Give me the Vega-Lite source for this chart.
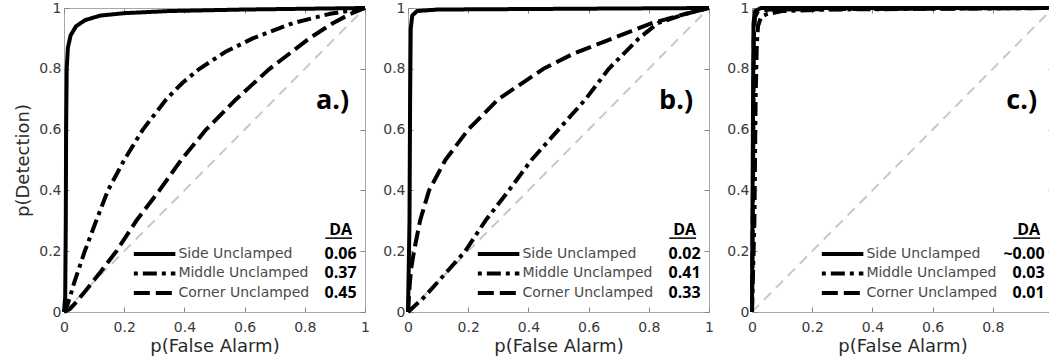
{
  "$schema": "https://vega.github.io/schema/vega-lite/v6.json",
  "padding": {"left": 14, "top": 0, "right": 0, "bottom": 0},
  "background": "white",
  "config": {
    "view": {"stroke": "#a8a8a8", "strokeWidth": 1},
    "axis": {"labelFont": "DejaVu Sans", "labelFontSize": 14, "labelColor": "#3a3a3a", "titleFont": "DejaVu Sans", "titleFontSize": 18, "titleFontWeight": "normal", "titleColor": "#2a2a2a", "tickColor": "#888888", "grid": false, "domain": false, "labelFlush": false}
  },
  "datasets": {
    "curves": [
      {"panel": "a", "series": "Chance", "fa": 0, "det": 0}, {"panel": "a", "series": "Chance", "fa": 1, "det": 1},
      {"panel": "b", "series": "Chance", "fa": 0, "det": 0}, {"panel": "b", "series": "Chance", "fa": 1, "det": 1},
      {"panel": "c", "series": "Chance", "fa": 0, "det": 0}, {"panel": "c", "series": "Chance", "fa": 1, "det": 1},
      {"panel": "a", "series": "Side Unclamped", "fa": 0, "det": 0},
      {"panel": "a", "series": "Side Unclamped", "fa": 0.004, "det": 0.05},
      {"panel": "a", "series": "Side Unclamped", "fa": 0.006, "det": 0.3},
      {"panel": "a", "series": "Side Unclamped", "fa": 0.007, "det": 0.6},
      {"panel": "a", "series": "Side Unclamped", "fa": 0.009, "det": 0.8},
      {"panel": "a", "series": "Side Unclamped", "fa": 0.013, "det": 0.87},
      {"panel": "a", "series": "Side Unclamped", "fa": 0.022, "det": 0.91},
      {"panel": "a", "series": "Side Unclamped", "fa": 0.04, "det": 0.94},
      {"panel": "a", "series": "Side Unclamped", "fa": 0.07, "det": 0.96},
      {"panel": "a", "series": "Side Unclamped", "fa": 0.12, "det": 0.975},
      {"panel": "a", "series": "Side Unclamped", "fa": 0.2, "det": 0.983},
      {"panel": "a", "series": "Side Unclamped", "fa": 0.35, "det": 0.99},
      {"panel": "a", "series": "Side Unclamped", "fa": 0.6, "det": 0.995},
      {"panel": "a", "series": "Side Unclamped", "fa": 1, "det": 1},
      {"panel": "a", "series": "Middle Unclamped", "fa": 0, "det": 0},
      {"panel": "a", "series": "Middle Unclamped", "fa": 0.01, "det": 0.02},
      {"panel": "a", "series": "Middle Unclamped", "fa": 0.02, "det": 0.05},
      {"panel": "a", "series": "Middle Unclamped", "fa": 0.035, "det": 0.1},
      {"panel": "a", "series": "Middle Unclamped", "fa": 0.069, "det": 0.2},
      {"panel": "a", "series": "Middle Unclamped", "fa": 0.107, "det": 0.3},
      {"panel": "a", "series": "Middle Unclamped", "fa": 0.146, "det": 0.4},
      {"panel": "a", "series": "Middle Unclamped", "fa": 0.2, "det": 0.5},
      {"panel": "a", "series": "Middle Unclamped", "fa": 0.262, "det": 0.6},
      {"panel": "a", "series": "Middle Unclamped", "fa": 0.34, "det": 0.7},
      {"panel": "a", "series": "Middle Unclamped", "fa": 0.395, "det": 0.755},
      {"panel": "a", "series": "Middle Unclamped", "fa": 0.45, "det": 0.8},
      {"panel": "a", "series": "Middle Unclamped", "fa": 0.535, "det": 0.855},
      {"panel": "a", "series": "Middle Unclamped", "fa": 0.627, "det": 0.9},
      {"panel": "a", "series": "Middle Unclamped", "fa": 0.76, "det": 0.95},
      {"panel": "a", "series": "Middle Unclamped", "fa": 0.88, "det": 0.98},
      {"panel": "a", "series": "Middle Unclamped", "fa": 1, "det": 1},
      {"panel": "a", "series": "Corner Unclamped", "fa": 0, "det": 0},
      {"panel": "a", "series": "Corner Unclamped", "fa": 0.02, "det": 0.01},
      {"panel": "a", "series": "Corner Unclamped", "fa": 0.041, "det": 0.033},
      {"panel": "a", "series": "Corner Unclamped", "fa": 0.08, "det": 0.08},
      {"panel": "a", "series": "Corner Unclamped", "fa": 0.12, "det": 0.13},
      {"panel": "a", "series": "Corner Unclamped", "fa": 0.174, "det": 0.2},
      {"panel": "a", "series": "Corner Unclamped", "fa": 0.24, "det": 0.3},
      {"panel": "a", "series": "Corner Unclamped", "fa": 0.317, "det": 0.4},
      {"panel": "a", "series": "Corner Unclamped", "fa": 0.389, "det": 0.5},
      {"panel": "a", "series": "Corner Unclamped", "fa": 0.472, "det": 0.6},
      {"panel": "a", "series": "Corner Unclamped", "fa": 0.572, "det": 0.7},
      {"panel": "a", "series": "Corner Unclamped", "fa": 0.683, "det": 0.8},
      {"panel": "a", "series": "Corner Unclamped", "fa": 0.815, "det": 0.9},
      {"panel": "a", "series": "Corner Unclamped", "fa": 0.893, "det": 0.95},
      {"panel": "a", "series": "Corner Unclamped", "fa": 0.95, "det": 0.98},
      {"panel": "a", "series": "Corner Unclamped", "fa": 1, "det": 1},
      {"panel": "b", "series": "Side Unclamped", "fa": 0, "det": 0},
      {"panel": "b", "series": "Side Unclamped", "fa": 0.005, "det": 0.3},
      {"panel": "b", "series": "Side Unclamped", "fa": 0.007, "det": 0.7},
      {"panel": "b", "series": "Side Unclamped", "fa": 0.009, "det": 0.93},
      {"panel": "b", "series": "Side Unclamped", "fa": 0.014, "det": 0.975},
      {"panel": "b", "series": "Side Unclamped", "fa": 0.03, "det": 0.99},
      {"panel": "b", "series": "Side Unclamped", "fa": 0.1, "det": 0.995},
      {"panel": "b", "series": "Side Unclamped", "fa": 1, "det": 1},
      {"panel": "b", "series": "Middle Unclamped", "fa": 0, "det": 0},
      {"panel": "b", "series": "Middle Unclamped", "fa": 0.05, "det": 0.045},
      {"panel": "b", "series": "Middle Unclamped", "fa": 0.1, "det": 0.1},
      {"panel": "b", "series": "Middle Unclamped", "fa": 0.19, "det": 0.2},
      {"panel": "b", "series": "Middle Unclamped", "fa": 0.257, "det": 0.3},
      {"panel": "b", "series": "Middle Unclamped", "fa": 0.335, "det": 0.4},
      {"panel": "b", "series": "Middle Unclamped", "fa": 0.41, "det": 0.5},
      {"panel": "b", "series": "Middle Unclamped", "fa": 0.5, "det": 0.6},
      {"panel": "b", "series": "Middle Unclamped", "fa": 0.59, "det": 0.7},
      {"panel": "b", "series": "Middle Unclamped", "fa": 0.667, "det": 0.8},
      {"panel": "b", "series": "Middle Unclamped", "fa": 0.767, "det": 0.9},
      {"panel": "b", "series": "Middle Unclamped", "fa": 0.83, "det": 0.95},
      {"panel": "b", "series": "Middle Unclamped", "fa": 0.92, "det": 0.98},
      {"panel": "b", "series": "Middle Unclamped", "fa": 1, "det": 1},
      {"panel": "b", "series": "Corner Unclamped", "fa": 0, "det": 0},
      {"panel": "b", "series": "Corner Unclamped", "fa": 0.005, "det": 0.08},
      {"panel": "b", "series": "Corner Unclamped", "fa": 0.01, "det": 0.14},
      {"panel": "b", "series": "Corner Unclamped", "fa": 0.02, "det": 0.2},
      {"panel": "b", "series": "Corner Unclamped", "fa": 0.04, "det": 0.3},
      {"panel": "b", "series": "Corner Unclamped", "fa": 0.07, "det": 0.4},
      {"panel": "b", "series": "Corner Unclamped", "fa": 0.124, "det": 0.5},
      {"panel": "b", "series": "Corner Unclamped", "fa": 0.2, "det": 0.6},
      {"panel": "b", "series": "Corner Unclamped", "fa": 0.3, "det": 0.7},
      {"panel": "b", "series": "Corner Unclamped", "fa": 0.45, "det": 0.8},
      {"panel": "b", "series": "Corner Unclamped", "fa": 0.55, "det": 0.85},
      {"panel": "b", "series": "Corner Unclamped", "fa": 0.68, "det": 0.9},
      {"panel": "b", "series": "Corner Unclamped", "fa": 0.81, "det": 0.95},
      {"panel": "b", "series": "Corner Unclamped", "fa": 0.9, "det": 0.975},
      {"panel": "b", "series": "Corner Unclamped", "fa": 1, "det": 1},
      {"panel": "c", "series": "Side Unclamped", "fa": 0, "det": 0},
      {"panel": "c", "series": "Side Unclamped", "fa": 0.003, "det": 0.6},
      {"panel": "c", "series": "Side Unclamped", "fa": 0.005, "det": 0.95},
      {"panel": "c", "series": "Side Unclamped", "fa": 0.01, "det": 0.99},
      {"panel": "c", "series": "Side Unclamped", "fa": 0.03, "det": 1},
      {"panel": "c", "series": "Side Unclamped", "fa": 1, "det": 1},
      {"panel": "c", "series": "Middle Unclamped", "fa": 0, "det": 0},
      {"panel": "c", "series": "Middle Unclamped", "fa": 0.008, "det": 0.3},
      {"panel": "c", "series": "Middle Unclamped", "fa": 0.012, "det": 0.7},
      {"panel": "c", "series": "Middle Unclamped", "fa": 0.016, "det": 0.88},
      {"panel": "c", "series": "Middle Unclamped", "fa": 0.02, "det": 0.94},
      {"panel": "c", "series": "Middle Unclamped", "fa": 0.03, "det": 0.97},
      {"panel": "c", "series": "Middle Unclamped", "fa": 0.05, "det": 0.98},
      {"panel": "c", "series": "Middle Unclamped", "fa": 0.1, "det": 0.99},
      {"panel": "c", "series": "Middle Unclamped", "fa": 0.25, "det": 0.995},
      {"panel": "c", "series": "Middle Unclamped", "fa": 1, "det": 1},
      {"panel": "c", "series": "Corner Unclamped", "fa": 0, "det": 0},
      {"panel": "c", "series": "Corner Unclamped", "fa": 0.004, "det": 0.5},
      {"panel": "c", "series": "Corner Unclamped", "fa": 0.006, "det": 0.9},
      {"panel": "c", "series": "Corner Unclamped", "fa": 0.01, "det": 0.97},
      {"panel": "c", "series": "Corner Unclamped", "fa": 0.02, "det": 0.99},
      {"panel": "c", "series": "Corner Unclamped", "fa": 0.06, "det": 0.995},
      {"panel": "c", "series": "Corner Unclamped", "fa": 1, "det": 1}
    ],
    "panels": [
      {"panel": "a", "tag": "a.)", "da": "0.06\n0.37\n0.45"},
      {"panel": "b", "tag": "b.)", "da": "0.02\n0.41\n0.33"},
      {"panel": "c", "tag": "c.)", "da": "~0.00\n0.03\n0.01"}
    ]
  },
  "bounds": "flush",
  "spacing": 43,
  "hconcat": [
    {
      "width": 301, "height": 304,
      "resolve": {"axis": {"x": "independent", "y": "independent"}},
      "layer": [
        {"data": {"name": "curves"}, "transform": [{"filter": "datum.panel === 'a' && datum.series === 'Chance'"}],
         "mark": {"type": "line", "color": "#c8c8c8", "strokeWidth": 2, "strokeDash": [10, 7]},
         "encoding": {
           "x": {"field": "fa", "type": "quantitative", "scale": {"domain": [0, 1], "nice": false}, "axis": {"orient": "top", "labels": false, "title": null, "tickSize": -5, "values": [0, 0.2, 0.4, 0.6, 0.8, 1]}},
           "y": {"field": "det", "type": "quantitative", "scale": {"domain": [0, 1], "nice": false}, "axis": {"orient": "right", "labels": false, "title": null, "tickSize": -5, "values": [0, 0.2, 0.4, 0.6, 0.8, 1]}}
         }},
        {"data": {"name": "curves"}, "transform": [{"filter": "datum.panel === 'a' && datum.series !== 'Chance'"}],
         "mark": {"type": "line", "color": "black", "strokeWidth": 4, "strokeCap": "butt", "strokeJoin": "round"},
         "encoding": {
           "x": {"field": "fa", "type": "quantitative", "title": "p(False Alarm)", "axis": {"tickSize": -5, "labelPadding": 13, "titlePadding": 3, "format": "~g", "values": [0, 0.2, 0.4, 0.6, 0.8, 1]}},
           "y": {"field": "det", "type": "quantitative", "title": "p(Detection)", "axis": {"tickSize": -5, "labelPadding": 8, "titlePadding": 6, "format": "~g", "values": [0, 0.2, 0.4, 0.6, 0.8, 1]}},
           "strokeDash": {"field": "series", "type": "nominal", "legend": null, "scale": {"domain": ["Side Unclamped", "Middle Unclamped", "Corner Unclamped"], "range": [[1, 0], [14, 5, 4, 5], [16, 6]]}}
         }},
        {"data": {"name": "panels"}, "transform": [{"filter": "datum.panel === 'a'"}],
         "mark": {"type": "rule", "color": "black", "strokeWidth": 4},
         "encoding": {"x": {"datum": 0.232, "axis": null}, "x2": {"datum": 0.37}, "y": {"datum": 0.191, "axis": null}}},
        {"data": {"name": "panels"}, "transform": [{"filter": "datum.panel === 'a'"}],
         "mark": {"type": "rule", "color": "black", "strokeWidth": 4, "strokeDash": [4, 5, 14, 5]},
         "encoding": {"x": {"datum": 0.232, "axis": null}, "x2": {"datum": 0.37}, "y": {"datum": 0.1266, "axis": null}}},
        {"data": {"name": "panels"}, "transform": [{"filter": "datum.panel === 'a'"}],
         "mark": {"type": "rule", "color": "black", "strokeWidth": 4, "strokeDash": [16, 6]},
         "encoding": {"x": {"datum": 0.232, "axis": null}, "x2": {"datum": 0.37}, "y": {"datum": 0.0625, "axis": null}}},
        {"data": {"name": "panels"}, "transform": [{"filter": "datum.panel === 'a'"}],
         "mark": {"type": "rule", "color": "black", "strokeWidth": 1.5},
         "encoding": {"x": {"datum": 0.868, "axis": null}, "x2": {"datum": 0.957}, "y": {"datum": 0.243, "axis": null}}},
        {"data": {"name": "panels"}, "transform": [{"filter": "datum.panel === 'a'"}],
         "mark": {"type": "text", "align": "left", "baseline": "middle", "font": "DejaVu Sans", "fontSize": 14, "color": "#4a4a4a", "lineHeight": 19.5, "lineBreak": "\n", "text": "Side Unclamped\nMiddle Unclamped\nCorner Unclamped"},
         "encoding": {"x": {"datum": 0.38, "axis": null}, "y": {"datum": 0.191, "axis": null}}},
        {"data": {"name": "panels"}, "transform": [{"filter": "datum.panel === 'a'"}],
         "mark": {"type": "text", "align": "right", "baseline": "middle", "font": "Open Sans", "fontWeight": "bold", "fontSize": 16, "color": "black", "lineHeight": 19.5, "lineBreak": "\n"},
         "encoding": {"x": {"datum": 0.972, "axis": null}, "y": {"datum": 0.191, "axis": null}, "text": {"field": "da"}}},
        {"data": {"name": "panels"}, "transform": [{"filter": "datum.panel === 'a'"}],
         "mark": {"type": "text", "align": "right", "baseline": "alphabetic", "font": "Open Sans", "fontWeight": "bold", "fontSize": 16, "color": "black", "text": "DA"},
         "encoding": {"x": {"datum": 0.957, "axis": null}, "y": {"datum": 0.253, "axis": null}}},
        {"data": {"name": "panels"}, "transform": [{"filter": "datum.panel === 'a'"}],
         "mark": {"type": "text", "align": "right", "baseline": "alphabetic", "font": "Open Sans", "fontWeight": "bold", "fontSize": 27, "color": "black"},
         "encoding": {"x": {"datum": 0.947, "axis": null}, "y": {"datum": 0.668, "axis": null}, "text": {"field": "tag"}}}
      ]
    },
    {
      "width": 301, "height": 304,
      "resolve": {"axis": {"x": "independent", "y": "independent"}},
      "layer": [
        {"data": {"name": "curves"}, "transform": [{"filter": "datum.panel === 'b' && datum.series === 'Chance'"}],
         "mark": {"type": "line", "color": "#c8c8c8", "strokeWidth": 2, "strokeDash": [10, 7]},
         "encoding": {
           "x": {"field": "fa", "type": "quantitative", "scale": {"domain": [0, 1], "nice": false}, "axis": {"orient": "top", "labels": false, "title": null, "tickSize": -5, "values": [0, 0.2, 0.4, 0.6, 0.8, 1]}},
           "y": {"field": "det", "type": "quantitative", "scale": {"domain": [0, 1], "nice": false}, "axis": {"orient": "right", "labels": false, "title": null, "tickSize": -5, "values": [0, 0.2, 0.4, 0.6, 0.8, 1]}}
         }},
        {"data": {"name": "curves"}, "transform": [{"filter": "datum.panel === 'b' && datum.series !== 'Chance'"}],
         "mark": {"type": "line", "color": "black", "strokeWidth": 4, "strokeCap": "butt", "strokeJoin": "round"},
         "encoding": {
           "x": {"field": "fa", "type": "quantitative", "title": "p(False Alarm)", "axis": {"tickSize": -5, "labelPadding": 13, "titlePadding": 3, "format": "~g", "values": [0, 0.2, 0.4, 0.6, 0.8, 1]}},
           "y": {"field": "det", "type": "quantitative", "title": null, "axis": {"tickSize": -5, "labelPadding": 8, "format": "~g", "values": [0, 0.2, 0.4, 0.6, 0.8, 1]}},
           "strokeDash": {"field": "series", "type": "nominal", "legend": null, "scale": {"domain": ["Side Unclamped", "Middle Unclamped", "Corner Unclamped"], "range": [[1, 0], [14, 5, 4, 5], [16, 6]]}}
         }},
        {"data": {"name": "panels"}, "transform": [{"filter": "datum.panel === 'b'"}],
         "mark": {"type": "rule", "color": "black", "strokeWidth": 4},
         "encoding": {"x": {"datum": 0.232, "axis": null}, "x2": {"datum": 0.37}, "y": {"datum": 0.191, "axis": null}}},
        {"data": {"name": "panels"}, "transform": [{"filter": "datum.panel === 'b'"}],
         "mark": {"type": "rule", "color": "black", "strokeWidth": 4, "strokeDash": [4, 5, 14, 5]},
         "encoding": {"x": {"datum": 0.232, "axis": null}, "x2": {"datum": 0.37}, "y": {"datum": 0.1266, "axis": null}}},
        {"data": {"name": "panels"}, "transform": [{"filter": "datum.panel === 'b'"}],
         "mark": {"type": "rule", "color": "black", "strokeWidth": 4, "strokeDash": [16, 6]},
         "encoding": {"x": {"datum": 0.232, "axis": null}, "x2": {"datum": 0.37}, "y": {"datum": 0.0625, "axis": null}}},
        {"data": {"name": "panels"}, "transform": [{"filter": "datum.panel === 'b'"}],
         "mark": {"type": "rule", "color": "black", "strokeWidth": 1.5},
         "encoding": {"x": {"datum": 0.868, "axis": null}, "x2": {"datum": 0.957}, "y": {"datum": 0.243, "axis": null}}},
        {"data": {"name": "panels"}, "transform": [{"filter": "datum.panel === 'b'"}],
         "mark": {"type": "text", "align": "left", "baseline": "middle", "font": "DejaVu Sans", "fontSize": 14, "color": "#4a4a4a", "lineHeight": 19.5, "lineBreak": "\n", "text": "Side Unclamped\nMiddle Unclamped\nCorner Unclamped"},
         "encoding": {"x": {"datum": 0.38, "axis": null}, "y": {"datum": 0.191, "axis": null}}},
        {"data": {"name": "panels"}, "transform": [{"filter": "datum.panel === 'b'"}],
         "mark": {"type": "text", "align": "right", "baseline": "middle", "font": "Open Sans", "fontWeight": "bold", "fontSize": 16, "color": "black", "lineHeight": 19.5, "lineBreak": "\n"},
         "encoding": {"x": {"datum": 0.972, "axis": null}, "y": {"datum": 0.191, "axis": null}, "text": {"field": "da"}}},
        {"data": {"name": "panels"}, "transform": [{"filter": "datum.panel === 'b'"}],
         "mark": {"type": "text", "align": "right", "baseline": "alphabetic", "font": "Open Sans", "fontWeight": "bold", "fontSize": 16, "color": "black", "text": "DA"},
         "encoding": {"x": {"datum": 0.957, "axis": null}, "y": {"datum": 0.253, "axis": null}}},
        {"data": {"name": "panels"}, "transform": [{"filter": "datum.panel === 'b'"}],
         "mark": {"type": "text", "align": "right", "baseline": "alphabetic", "font": "Open Sans", "fontWeight": "bold", "fontSize": 27, "color": "black"},
         "encoding": {"x": {"datum": 0.947, "axis": null}, "y": {"datum": 0.668, "axis": null}, "text": {"field": "tag"}}}
      ]
    },
    {
      "width": 301, "height": 304,
      "resolve": {"axis": {"x": "independent", "y": "independent"}},
      "layer": [
        {"data": {"name": "curves"}, "transform": [{"filter": "datum.panel === 'c' && datum.series === 'Chance'"}],
         "mark": {"type": "line", "color": "#c8c8c8", "strokeWidth": 2, "strokeDash": [10, 7]},
         "encoding": {
           "x": {"field": "fa", "type": "quantitative", "scale": {"domain": [0, 1], "nice": false}, "axis": {"orient": "top", "labels": false, "title": null, "tickSize": -5, "values": [0, 0.2, 0.4, 0.6, 0.8, 1]}},
           "y": {"field": "det", "type": "quantitative", "scale": {"domain": [0, 1], "nice": false}, "axis": {"orient": "right", "labels": false, "title": null, "tickSize": -5, "values": [0, 0.2, 0.4, 0.6, 0.8, 1]}}
         }},
        {"data": {"name": "curves"}, "transform": [{"filter": "datum.panel === 'c' && datum.series !== 'Chance'"}],
         "mark": {"type": "line", "color": "black", "strokeWidth": 4, "strokeCap": "butt", "strokeJoin": "round"},
         "encoding": {
           "x": {"field": "fa", "type": "quantitative", "title": "p(False Alarm)", "axis": {"tickSize": -5, "labelPadding": 13, "titlePadding": 3, "format": "~g", "values": [0, 0.2, 0.4, 0.6, 0.8, 1]}},
           "y": {"field": "det", "type": "quantitative", "title": null, "axis": {"tickSize": -5, "labelPadding": 8, "format": "~g", "values": [0, 0.2, 0.4, 0.6, 0.8, 1]}},
           "strokeDash": {"field": "series", "type": "nominal", "legend": null, "scale": {"domain": ["Side Unclamped", "Middle Unclamped", "Corner Unclamped"], "range": [[1, 0], [14, 5, 4, 5], [16, 6]]}}
         }},
        {"data": {"name": "panels"}, "transform": [{"filter": "datum.panel === 'c'"}],
         "mark": {"type": "rule", "color": "black", "strokeWidth": 4},
         "encoding": {"x": {"datum": 0.232, "axis": null}, "x2": {"datum": 0.37}, "y": {"datum": 0.191, "axis": null}}},
        {"data": {"name": "panels"}, "transform": [{"filter": "datum.panel === 'c'"}],
         "mark": {"type": "rule", "color": "black", "strokeWidth": 4, "strokeDash": [4, 5, 14, 5]},
         "encoding": {"x": {"datum": 0.232, "axis": null}, "x2": {"datum": 0.37}, "y": {"datum": 0.1266, "axis": null}}},
        {"data": {"name": "panels"}, "transform": [{"filter": "datum.panel === 'c'"}],
         "mark": {"type": "rule", "color": "black", "strokeWidth": 4, "strokeDash": [16, 6]},
         "encoding": {"x": {"datum": 0.232, "axis": null}, "x2": {"datum": 0.37}, "y": {"datum": 0.0625, "axis": null}}},
        {"data": {"name": "panels"}, "transform": [{"filter": "datum.panel === 'c'"}],
         "mark": {"type": "rule", "color": "black", "strokeWidth": 1.5},
         "encoding": {"x": {"datum": 0.868, "axis": null}, "x2": {"datum": 0.957}, "y": {"datum": 0.243, "axis": null}}},
        {"data": {"name": "panels"}, "transform": [{"filter": "datum.panel === 'c'"}],
         "mark": {"type": "text", "align": "left", "baseline": "middle", "font": "DejaVu Sans", "fontSize": 14, "color": "#4a4a4a", "lineHeight": 19.5, "lineBreak": "\n", "text": "Side Unclamped\nMiddle Unclamped\nCorner Unclamped"},
         "encoding": {"x": {"datum": 0.38, "axis": null}, "y": {"datum": 0.191, "axis": null}}},
        {"data": {"name": "panels"}, "transform": [{"filter": "datum.panel === 'c'"}],
         "mark": {"type": "text", "align": "right", "baseline": "middle", "font": "Open Sans", "fontWeight": "bold", "fontSize": 16, "color": "black", "lineHeight": 19.5, "lineBreak": "\n"},
         "encoding": {"x": {"datum": 0.972, "axis": null}, "y": {"datum": 0.191, "axis": null}, "text": {"field": "da"}}},
        {"data": {"name": "panels"}, "transform": [{"filter": "datum.panel === 'c'"}],
         "mark": {"type": "text", "align": "right", "baseline": "alphabetic", "font": "Open Sans", "fontWeight": "bold", "fontSize": 16, "color": "black", "text": "DA"},
         "encoding": {"x": {"datum": 0.957, "axis": null}, "y": {"datum": 0.253, "axis": null}}},
        {"data": {"name": "panels"}, "transform": [{"filter": "datum.panel === 'c'"}],
         "mark": {"type": "text", "align": "right", "baseline": "alphabetic", "font": "Open Sans", "fontWeight": "bold", "fontSize": 27, "color": "black"},
         "encoding": {"x": {"datum": 0.947, "axis": null}, "y": {"datum": 0.668, "axis": null}, "text": {"field": "tag"}}}
      ]
    }
  ]
}
